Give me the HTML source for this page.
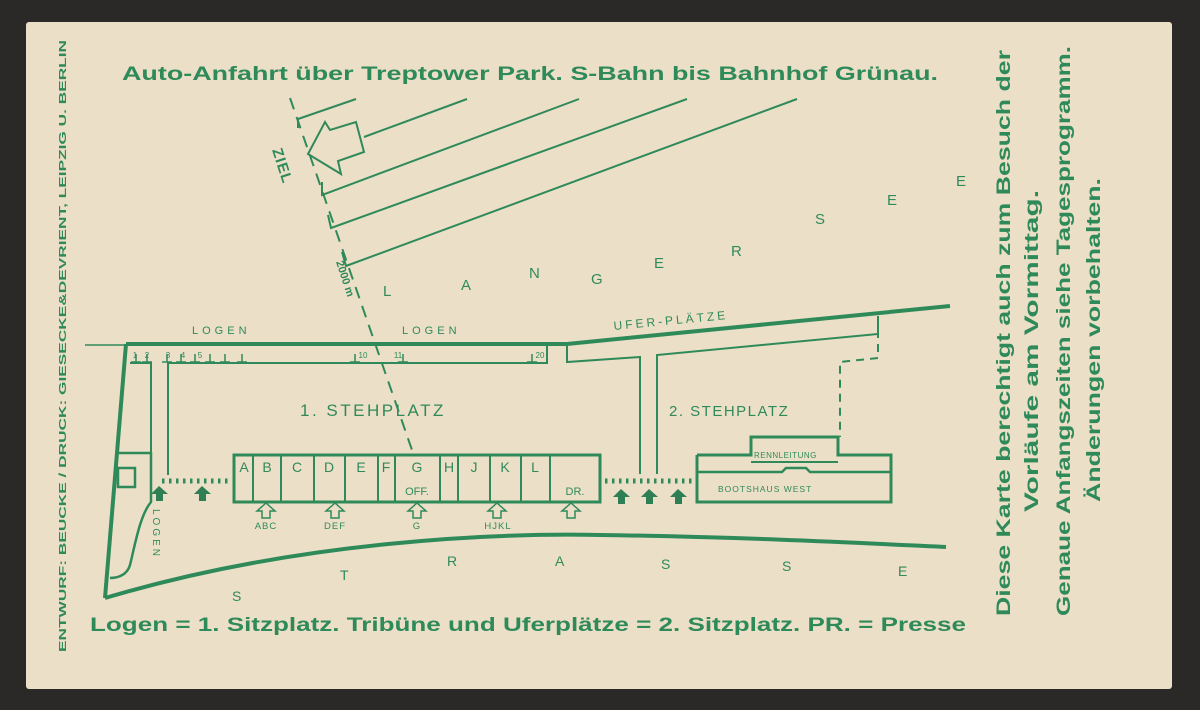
<!DOCTYPE html>
<html><head><meta charset="utf-8"><style>
html,body{margin:0;padding:0;background:#2b2927;width:1200px;height:710px;overflow:hidden}
svg{display:block}
text{font-family:"Liberation Sans",sans-serif;fill:#2f8a5a}
</style></head><body>
<svg width="1200" height="710" viewBox="0 0 1200 710">
<rect x="0" y="0" width="1200" height="710" fill="#2b2927"/>
<rect x="26" y="22" width="1146" height="667" fill="#ecdfc7" rx="3"/>
<g stroke="#2f8a5a" fill="none">
<line x1="290" y1="98" x2="412" y2="450" stroke-width="2" stroke-dasharray="12,8"/>
<polyline points="298,128 298,119 356,99" stroke-width="2"/>
<line x1="364" y1="137" x2="467" y2="99" stroke-width="2"/>
<polyline points="322,182 322,195 579,99" stroke-width="2"/>
<polyline points="328,215 331,228 687,99" stroke-width="2"/>
<polyline points="342,252 346,266 797,99" stroke-width="2"/>
<polygon points="308,154 325,122 330,130 356,122 364,152 338,161 341,174" stroke-width="2"/>
<line x1="85" y1="345" x2="128" y2="345" stroke-width="1.5"/>
<polyline points="126,344 567,344 950,306" stroke-width="4"/>
<line x1="126" y1="344" x2="105" y2="598" stroke-width="4"/>
<path d="M105,598 C300,540 500,533 600,535 C750,537 880,544 946,547" stroke-width="4"/>
<polyline points="130,363 151,363 151,455" stroke-width="2"/>
<polyline points="168,475 168,363 547,363 547,344" stroke-width="2"/>
<path d="M118,453 L151,453 L151,502 C140,515 135,545 130,565 C127,575 118,578 110,578" stroke-width="2.5"/>
<rect x="118" y="468" width="17" height="19" stroke-width="2.5"/>
<g stroke-width="1.5">
<path d="M136,362 v-8 M131,362 h10 M147,362 v-8 M142,362 h10 M167,362 v-8 M162,362 h10 M181,362 v-8 M176,362 h10 M195,362 v-8 M190,362 h10 M210,362 v-8 M205,362 h10 M225,362 v-8 M220,362 h10 M242,362 v-8 M237,362 h10 M355,362 v-8 M350,362 h10 M403,362 v-8 M398,362 h10 M532,362 v-8 M527,362 h10"/>
</g>
<polyline points="567,345 567,362 640,357 640,474" stroke-width="2"/>
<polyline points="657,474 657,355 878,334 878,316" stroke-width="2"/>
<polyline points="878,316 878,358 840,362 840,437" stroke-width="2" stroke-dasharray="8,6"/>
<rect x="234" y="455" width="366" height="47" stroke-width="3"/>
<path d="M253,455v47M281,455v47M314,455v47M345,455v47M378,455v47M395,455v47M440,455v47M458,455v47M490,455v47M521,455v47M550,455v47" stroke-width="2"/>
<line x1="162" y1="481" x2="229" y2="481" stroke-width="5" stroke-dasharray="2.5,4.5"/>
<line x1="605" y1="481" x2="692" y2="481" stroke-width="5" stroke-dasharray="2.5,4.5"/>
<polyline points="697,455 751,455 751,437 838,437 838,455 891,455 891,502 697,502 697,455" stroke-width="3"/>
<polyline points="751,462 838,462" stroke-width="2"/>
<path d="M697,472 H782 L786,468 H806 L810,472 H891" stroke-width="2.5"/>
<g stroke-width="1.5">
<path d="M266,503 l-9,8 h5 v7 h8 v-7 h5 z"/>
<path d="M335,503 l-9,8 h5 v7 h8 v-7 h5 z"/>
<path d="M417,503 l-9,8 h5 v7 h8 v-7 h5 z"/>
<path d="M497,503 l-9,8 h5 v7 h8 v-7 h5 z"/>
<path d="M571,503 l-9,8 h5 v7 h8 v-7 h5 z"/>
</g>
</g>
<g fill="#2f7f54">
<path d="M159,486 l-8,8 h5 v7 h7 v-7 h5 z"/>
<path d="M202,486 l-8,8 h5 v7 h7 v-7 h5 z"/>
<path d="M621,489 l-8,8 h5 v7 h7 v-7 h5 z"/>
<path d="M649,489 l-8,8 h5 v7 h7 v-7 h5 z"/>
<path d="M678,489 l-8,8 h5 v7 h7 v-7 h5 z"/>
</g>
<text x="122" y="80" font-size="19.5" font-weight="bold" textLength="816" lengthAdjust="spacingAndGlyphs">Auto-Anfahrt über Treptower Park.   S-Bahn bis Bahnhof Grünau.</text>
<text x="90" y="631" font-size="19.5" font-weight="bold" textLength="876" lengthAdjust="spacingAndGlyphs">Logen = 1. Sitzplatz.  Tribüne und Uferplätze = 2. Sitzplatz.  PR. = Presse</text>
<text transform="translate(66,652) rotate(-90)" font-size="10.5" font-weight="bold" textLength="612" lengthAdjust="spacingAndGlyphs">ENTWURF: BEUCKE / DRUCK: GIESECKE&amp;DEVRIENT, LEIPZIG U. BERLIN</text>
<g font-size="19.5" font-weight="bold">
<text transform="translate(1010,616) rotate(-90)" textLength="566" lengthAdjust="spacingAndGlyphs">Diese Karte berechtigt auch zum Besuch der</text>
<text transform="translate(1038,512) rotate(-90)" textLength="322" lengthAdjust="spacingAndGlyphs">Vorläufe am Vormittag.</text>
<text transform="translate(1070,616) rotate(-90)" textLength="570" lengthAdjust="spacingAndGlyphs">Genaue Anfangszeiten siehe Tagesprogramm.</text>
<text transform="translate(1100,502) rotate(-90)" textLength="324" lengthAdjust="spacingAndGlyphs">Änderungen vorbehalten.</text>
</g>
<text transform="translate(272,150) rotate(72)" font-size="15" font-weight="bold" letter-spacing="1">ZIEL</text>
<text transform="translate(336,262) rotate(72)" font-size="11" font-weight="bold">2000 m</text>
<g font-size="15">
<text x="383" y="296">L</text><text x="461" y="290">A</text><text x="529" y="278">N</text>
<text x="591" y="284">G</text><text x="654" y="268">E</text><text x="731" y="256">R</text>
<text x="815" y="224">S</text><text x="887" y="205">E</text><text x="956" y="186">E</text>
</g>
<text x="192" y="334" font-size="11" letter-spacing="4">LOGEN</text>
<text x="402" y="334" font-size="11" letter-spacing="4">LOGEN</text>
<text transform="translate(614,330) rotate(-5.5)" font-size="12" letter-spacing="3">UFER-PLÄTZE</text>
<text x="300" y="416" font-size="17" letter-spacing="2.5">1. STEHPLATZ</text>
<text x="669" y="416" font-size="15" letter-spacing="1.5">2. STEHPLATZ</text>
<text x="754" y="458" font-size="8" letter-spacing="0.5">RENNLEITUNG</text>
<text x="718" y="492" font-size="8.5" letter-spacing="1">BOOTSHAUS WEST</text>
<g font-size="14" text-anchor="middle">
<text x="244" y="472">A</text><text x="267" y="472">B</text><text x="297" y="472">C</text>
<text x="329" y="472">D</text><text x="361" y="472">E</text><text x="386" y="472">F</text>
<text x="417" y="472">G</text><text x="449" y="472">H</text><text x="474" y="472">J</text>
<text x="505" y="472">K</text><text x="535" y="472">L</text>
<text x="417" y="495" font-size="11">OFF.</text><text x="575" y="495" font-size="11">DR.</text>
</g>
<g font-size="9.5" text-anchor="middle" letter-spacing="1">
<text x="266" y="529">ABC</text><text x="335" y="529">DEF</text><text x="417" y="529">G</text><text x="498" y="529">HJKL</text>
</g>
<text transform="translate(153,509) rotate(90)" font-size="10" letter-spacing="3">LOGEN</text>
<g font-size="8" text-anchor="middle">
<text x="135" y="358">1</text><text x="147" y="358">2</text><text x="168" y="358">3</text><text x="183" y="358">4</text><text x="200" y="358">5</text>
<text x="363" y="358">10</text><text x="398" y="358">11</text><text x="540" y="358">20</text>
</g>
<g font-size="14">
<text x="232" y="601">S</text><text x="340" y="580">T</text><text x="447" y="566">R</text>
<text x="555" y="566">A</text><text x="661" y="569">S</text><text x="782" y="571">S</text><text x="898" y="576">E</text>
</g>
</svg>
</body></html>
